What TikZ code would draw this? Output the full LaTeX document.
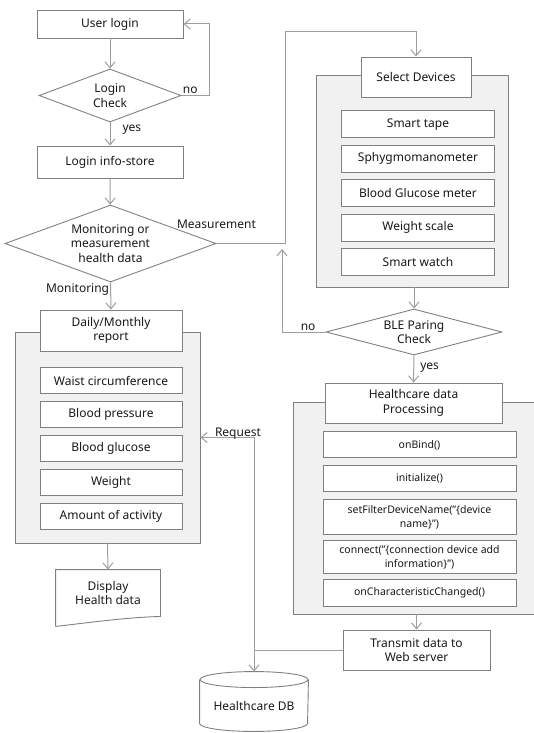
\documentclass[tikz,border=0pt]{standalone}
\usepackage{fontspec}
\setmainfont{Noto Sans}
\usetikzlibrary{arrows.meta,positioning,shapes.geometric}
\definecolor{linegray}{RGB}{158,158,158}
\definecolor{boxgray}{RGB}{128,128,128}
\definecolor{panelfill}{RGB}{241,241,241}
\definecolor{ink}{RGB}{25,25,25}
\tikzset{
  basic/.style   = {draw=boxgray, line width=0.9pt, fill=white, text=ink,
                    align=center, inner sep=1pt, font=\fontsize{12}{14.5}\selectfont},
  procbox/.style = {basic, rectangle},
  entry/.style   = {basic, rectangle, minimum height=26pt},
  small/.style   = {font=\fontsize{10.5}{14}\selectfont},
  panel/.style   = {draw=boxgray, line width=0.9pt, fill=panelfill, rectangle},
  decision/.style = {basic, diamond, inner sep=0pt, aspect=2.7},
  tag/.style     = {text=ink, font=\fontsize{12}{14.5}\selectfont, inner sep=1pt},
  flow/.style    = {->, draw=linegray, line width=1pt}
}

\begin{document}
\begin{tikzpicture}[x=1pt, y=-1pt,
    >={Straight Barb[length=6pt,width=10pt]}]
  \useasboundingbox (0,0) rectangle (534,733);

  % grey panels behind the lists
  \node[panel, minimum width=185pt, minimum height=211pt] (lpanel) at (107.5,437.5) {};
  \node[panel, minimum width=192pt, minimum height=212pt] (rpanel) at (412,181) {};
  \node[panel, minimum width=241pt, minimum height=212pt] (ppanel) at (413.5,508) {};

  % left column
  \node[procbox, minimum width=146pt, minimum height=28pt] (login) at (110,24) {User login};
  \node[decision, minimum width=142pt, minimum height=53pt] (check) at (110,95.5) {Login\\Check};
  \node[procbox, minimum width=146pt, minimum height=32pt] (store) at (110,162) {Login info-store};
  \node[decision, minimum width=211pt, minimum height=77pt] (mode) at (110.5,243.5)
    {Monitoring or\\measurement\\health data};
  \node[procbox, minimum width=142pt, minimum height=41pt] (report) at (111,330.5) {Daily/Monthly\\report};

  \begin{scope}[every node/.style={entry, minimum width=142pt}]
  \node [below=16pt of report] (l1) {Waist circumference};
  \node [below=7pt of l1] (l2) {Blood pressure};
  \node [below=7pt of l2] (l3) {Blood glucose};
  \node [below=7pt of l3] (l4) {Weight};
  \node [below=7pt of l4] (l5) {Amount of activity};
  \end{scope}

  \node[basic, draw=none, fill=none, minimum width=104pt, minimum height=46pt] (disp) at (108,593)
    {Display\\Health data};
  \draw[draw=boxgray, line width=0.9pt] ([yshift=-10pt]disp.south west) -- (disp.north west)
    -- (disp.north east) -- (disp.south east)
    .. controls ([xshift=-35pt,yshift=-1pt]disp.south east) and ([xshift=35pt,yshift=-6pt]disp.south west)
    .. ([yshift=-10pt]disp.south west);

  % right column
  \node[procbox, minimum width=110pt, minimum height=40pt] (select) at (416,77) {Select Devices};

  \begin{scope}[every node/.style={entry, minimum width=153pt, minimum height=27pt}]
  \node [below=13pt of select, xshift=2pt] (r1) {Smart tape};
  \node [below=6.5pt of r1] (r2) {Sphygmomanometer};
  \node [below=6.5pt of r2] (r3) {Blood Glucose meter};
  \node [below=6.5pt of r3] (r4) {Weight scale};
  \node [below=6.5pt of r4] (r5) {Smart watch};
  \end{scope}

  \node[decision, minimum width=176pt, minimum height=46pt] (ble) at (414,332) {BLE Paring\\Check};
  \node[procbox, minimum width=177pt, minimum height=40pt] (proc) at (413.5,403) {Healthcare data\\Processing};

  \begin{scope}[every node/.style={entry, small, minimum width=193pt}]
  \node [below=8pt of proc, xshift=6pt] (p1) {onBind()};
  \node [below=7pt of p1] (p2) {initialize()};
  \node [below=7pt of p2, minimum height=35pt] (p3) {setFilterDeviceName("\{device\\name\}")};
  \node [below=5pt of p3, minimum height=33pt] (p4) {connect("\{connection device add\\information\}")};
  \node [below=5pt of p4, minimum height=27pt] (p5) {onCharacteristicChanged()};
  \end{scope}

  \node[procbox, minimum width=147pt, minimum height=40pt] (send) at (416.5,650) {Transmit data to\\Web server};

  % database
  \node[basic, draw=none, fill=none, minimum width=108pt, minimum height=59pt] (db) at (254,701.5) {};
  \node[tag] (dbtext) at (254,706) {Healthcare DB};
  \draw[draw=boxgray, line width=0.9pt] ([yshift=-8pt]db.north) ellipse [x radius=54pt, y radius=8pt];
  \draw[draw=boxgray, line width=0.9pt] ([yshift=-8pt]db.north west) -- ([yshift=8pt]db.south west)
    arc[start angle=180, end angle=360, x radius=54pt, y radius=8pt] -- ([yshift=-8pt]db.north east);

  \coordinate (turn) at (285,243.5);
  \coordinate (over) at (285,32);
  \coordinate (noup) at (282,249);
  \coordinate (join) at (db.north |- send.west);

  % connectors
  \draw[flow] (login) -- (check);
  \draw[flow] (check.east) -| node[tag, above right, pos=0] {no} (209,95.5) |- (login.east);
  \draw[flow] (check.south) -- node[tag, right=11pt, pos=0.3] {yes} (store.north);
  \draw[flow] (store) -- (mode);
  \draw[flow] (mode.south) -- node[tag, left, pos=0.25] {Monitoring} (report.north);
  \draw[flow] (mode.east) -- node[tag, above=13pt, pos=0] {Measurement} (turn) -- (over) -| (select.north);
  \draw[flow] (lpanel.south) -- (disp.north);
  \draw[flow] (rpanel.south -| ble.north) -- (ble.north);
  \draw[flow] (ble.west) -| node[tag, above, pos=0.2] {no} (noup);
  \draw[flow] (ble.south) -- node[tag, right=5pt, pos=0.45] {yes} (proc.north);
  \draw[flow] (ppanel.south -| send.north) -- (send.north);
  \draw[flow] (send.west) -| (db.north);
  \draw[flow] (join) |- node[tag, anchor=base, pos=0.65, yshift=1pt] {Request} (lpanel.east);

\end{tikzpicture}
\end{document}
